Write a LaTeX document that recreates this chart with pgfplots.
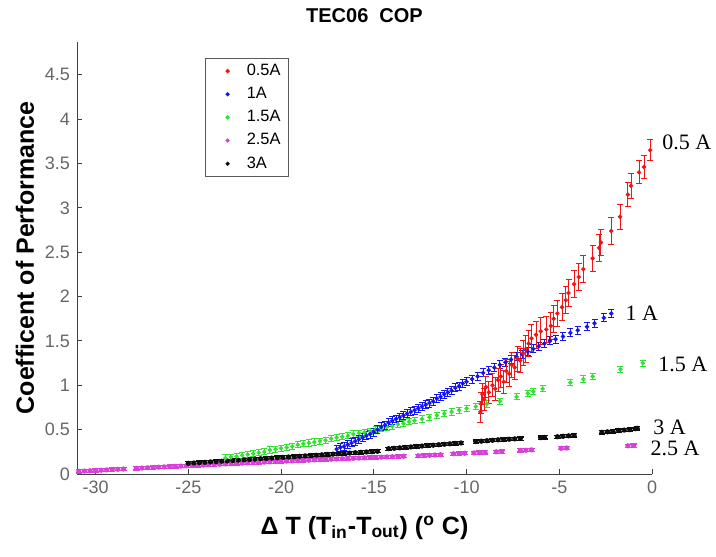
\documentclass[border=0pt]{standalone}
\usepackage{fontspec}
\setmainfont{Liberation Sans}
\newfontfamily\timesfont{Liberation Serif}
\usepackage{pgfplots}
\usepackage{pgfplotstable}
\pgfplotsset{compat=1.18}
\usetikzlibrary{calc}

\definecolor{cred}{rgb}{0.95,0.08,0.08}
\definecolor{cblue}{rgb}{0.08,0.08,0.95}
\definecolor{cgreen}{rgb}{0.2,0.88,0.2}
\definecolor{cmag}{rgb}{0.85,0.25,0.85}
\definecolor{cblk}{rgb}{0.05,0.05,0.05}

% 0.5 A (x, COP, error)
\pgfplotstableread{
x y e
-9.25 0.70 0.12
-9.20 0.80 0.12
-9.15 0.90 0.12
-9.05 0.84 0.12
-8.95 0.98 0.12
-8.80 0.92 0.12
-8.60 1.00 0.13
-8.45 0.96 0.13
-8.30 1.06 0.13
-8.15 1.10 0.13
-8.00 1.04 0.13
-7.85 1.16 0.13
-7.70 1.13 0.14
-7.55 1.23 0.14
-7.40 1.20 0.14
-7.25 1.30 0.14
-7.10 1.28 0.14
-6.95 1.36 0.14
-6.80 1.41 0.15
-6.65 1.47 0.15
-6.50 1.53 0.15
-6.25 1.57 0.15
-6.00 1.61 0.15
-5.70 1.63 0.15
-5.45 1.67 0.15
-5.30 1.75 0.15
-5.10 1.81 0.15
-4.85 1.88 0.15
-4.65 1.96 0.15
-4.50 2.04 0.15
-4.20 2.14 0.15
-3.95 2.22 0.15
-3.70 2.31 0.15
-3.20 2.43 0.15
-2.85 2.55 0.15
-2.75 2.61 0.15
-2.20 2.74 0.15
-1.72 2.90 0.14
-1.30 3.15 0.14
-1.13 3.25 0.14
-0.70 3.40 0.13
-0.43 3.46 0.13
-0.10 3.65 0.12
}\redtab

% 1 A
\pgfplotstableread{
x y
-17.0 0.28
-16.8 0.30
-16.6 0.31
-16.4 0.33
-16.2 0.35
-16.0 0.37
-15.8 0.39
-15.6 0.41
-15.4 0.43
-15.2 0.45
-15.0 0.47
-14.8 0.50
-14.6 0.53
-14.4 0.55
-14.2 0.58
-14.0 0.60
-13.8 0.62
-13.6 0.64
-13.4 0.66
-13.2 0.68
-13.0 0.70
-12.8 0.72
-12.6 0.74
-12.4 0.76
-12.2 0.78
-12.0 0.80
-11.8 0.82
-11.6 0.85
-11.4 0.87
-11.2 0.90
-11.0 0.92
-10.8 0.94
-10.6 0.97
-10.4 0.99
-10.2 1.02
-10.0 1.04
-9.7 1.07
-9.4 1.10
-9.1 1.14
-8.8 1.17
-8.5 1.20
-8.2 1.23
-7.9 1.26
-7.6 1.29
-7.3 1.32
-7.0 1.35
-6.7 1.38
-6.4 1.41
-6.1 1.44
-5.8 1.47
-5.5 1.50
-5.2 1.52
-4.8 1.55
-4.4 1.59
-4.0 1.62
-3.5 1.66
-3.1 1.70
-2.6 1.76
-2.2 1.81
}\bluetab

% 1.5 A
\pgfplotstableread{
x y
-23.0 0.18
-22.7 0.19
-22.4 0.20
-22.1 0.21
-21.8 0.22
-21.5 0.23
-21.2 0.24
-20.9 0.25
-20.6 0.27
-20.3 0.28
-20.0 0.29
-19.7 0.30
-19.4 0.31
-19.1 0.33
-18.8 0.34
-18.5 0.35
-18.2 0.36
-17.9 0.37
-17.6 0.38
-17.3 0.40
-17.0 0.41
-16.7 0.42
-16.4 0.43
-16.1 0.45
-15.8 0.46
-15.5 0.47
-15.2 0.48
-14.9 0.50
-14.6 0.51
-14.3 0.53
-14.0 0.54
-13.7 0.56
-13.4 0.57
-13.1 0.59
-12.8 0.60
-12.4 0.62
-12.0 0.64
-11.6 0.66
-11.2 0.68
-10.8 0.70
-10.4 0.72
-10.0 0.74
-9.5 0.76
-8.9 0.79
-8.2 0.82
-7.3 0.87
-6.7 0.91
-6.4 0.93
-5.9 0.96
-4.4 1.03
-3.7 1.07
-3.2 1.10
-1.7 1.18
-0.5 1.25
}\greentab

% 2.5 A
\pgfplotstableread{
x y
-30.9 0.030
-30.6 0.033
-30.3 0.036
-30.0 0.040
-29.7 0.043
-29.4 0.046
-29.1 0.050
-28.8 0.053
-28.5 0.056
-27.8 0.064
-27.5 0.067
-27.2 0.070
-26.9 0.073
-26.6 0.077
-26.3 0.080
-26.0 0.083
-25.7 0.086
-25.4 0.089
-25.1 0.092
-24.8 0.095
-24.5 0.098
-24.2 0.101
-23.9 0.104
-23.6 0.107
-23.3 0.110
-23.0 0.113
-22.7 0.116
-22.4 0.119
-22.1 0.122
-21.8 0.125
-21.5 0.128
-21.2 0.131
-20.9 0.134
-20.6 0.137
-20.3 0.140
-20.0 0.143
-19.7 0.146
-19.4 0.148
-19.1 0.151
-18.8 0.154
-18.5 0.156
-18.2 0.159
-17.9 0.162
-17.6 0.164
-17.3 0.167
-17.0 0.170
-16.7 0.172
-16.4 0.175
-16.1 0.177
-15.8 0.180
-15.5 0.182
-15.2 0.185
-14.9 0.187
-14.6 0.190
-14.3 0.192
-14.0 0.195
-13.7 0.197
-13.4 0.200
-12.6 0.205
-12.3 0.208
-12.0 0.211
-11.7 0.214
-11.4 0.217
-10.7 0.228
-10.4 0.231
-10.1 0.234
-9.6 0.238
-9.3 0.241
-9.0 0.244
-8.4 0.250
-8.1 0.253
-7.1 0.265
-6.8 0.268
-6.5 0.272
-4.9 0.290
-4.6 0.293
-1.3 0.318
-1.0 0.320
}\magtab

% 3 A
\pgfplotstableread{
x y
-25.0 0.120
-24.7 0.124
-24.4 0.128
-24.1 0.132
-23.8 0.136
-23.5 0.140
-23.2 0.144
-22.9 0.148
-22.6 0.152
-22.3 0.156
-22.0 0.160
-21.7 0.164
-21.4 0.168
-21.1 0.172
-20.8 0.176
-20.5 0.180
-20.2 0.184
-19.9 0.188
-19.6 0.192
-19.3 0.196
-19.0 0.200
-18.7 0.204
-18.4 0.208
-18.1 0.212
-17.8 0.216
-17.5 0.220
-17.2 0.224
-16.9 0.228
-16.6 0.232
-16.3 0.236
-16.0 0.240
-15.7 0.244
-15.4 0.248
-15.1 0.252
-14.8 0.256
-14.2 0.285
-13.9 0.290
-13.6 0.295
-13.3 0.300
-13.0 0.305
-12.7 0.310
-12.4 0.315
-12.1 0.320
-11.8 0.325
-11.5 0.330
-11.2 0.335
-10.9 0.340
-10.6 0.345
-10.3 0.350
-9.5 0.365
-9.2 0.370
-8.9 0.375
-8.6 0.380
-8.3 0.385
-8.0 0.388
-7.7 0.392
-7.4 0.396
-7.1 0.400
-6.0 0.410
-5.8 0.412
-5.1 0.420
-4.8 0.425
-4.5 0.430
-4.2 0.435
-2.7 0.470
-2.4 0.475
-2.1 0.480
-1.8 0.490
-1.5 0.495
-1.2 0.500
-0.9 0.510
-0.8 0.515
}\blktab

\pgfplotsset{
  ebar/.style={only marks, mark=*, mark size=0.9pt, color=#1,
    mark options={solid, fill=#1, draw=#1}},
}

\begin{document}
\begin{tikzpicture}
\begin{axis}[
  width=287.5pt, height=216pt, scale only axis,
  xmin=-31, xmax=0, ymin=0, ymax=4.87,
  axis x line*=bottom, axis y line*=left,
  axis line style={black!75, line width=0.5pt, -},
  xtick={-30,-25,-20,-15,-10,-5,0},
  ytick={0,0.5,1,1.5,2,2.5,3,3.5,4,4.5},
  tick align=inside, major tick length=2.5pt,
  tick style={black!75, line width=0.5pt},
  tick label style={font=\fontsize{9}{10}\selectfont, text=black!60},
  /pgf/number format/assume math mode=true,
  title={TEC06\ \ COP},
  title style={at={(0.5,1)}, anchor=base, yshift=3.5pt, font=\bfseries\fontsize{10}{12}\selectfont},
  xlabel={Δ T (T\textsubscript{in}-T\textsubscript{out}) (\textsuperscript{o} C)},
  ylabel={Coefficent of Performance},
  label style={font=\bfseries\fontsize{12.5}{14}\selectfont},
  xlabel style={at={(axis description cs:0.5,0)}, anchor=base, yshift=-30pt},
  ylabel style={at={(axis description cs:-0.0904,0.5)}, anchor=center},
  clip=false,
  legend style={at={(0.2226,0.963)}, anchor=north west, draw=black!65,
    line width=0.5pt, font=\fontsize{8.2}{9}\selectfont, row sep=0pt,
    inner xsep=2pt, inner ysep=0.5pt,
    nodes={inner sep=2.2pt}},
  legend cell align=left,
  legend image code/.code={\path (0cm,0cm) (0.56cm,0cm);
    \draw[#1] plot coordinates {(0.31cm,0cm)};},
]
  % legend entries in the original order
  \addlegendimage{ebar=cred, mark size=0.8pt}
  \addlegendimage{ebar=cblue, mark size=0.8pt}
  \addlegendimage{ebar=cgreen, mark size=0.8pt}
  \addlegendimage{ebar=cmag, mark size=0.8pt}
  \addlegendimage{ebar=cblk, mark size=0.8pt}
  \legend{0.5A, 1A, 1.5A, 2.5A, 3A}

  \addplot[ebar=cmag, mark size=1.1pt, forget plot,
    error bars/.cd, y dir=both, y fixed=0.018,
    error bar style={line width=0.6pt, cmag},
    error mark options={rotate=90, mark size=1.6pt, line width=0.6pt, cmag}]
    table[x=x, y=y] {\magtab};
  \addplot[ebar=cblk, mark size=1.1pt, forget plot,
    error bars/.cd, y dir=both, y fixed=0.018,
    error bar style={line width=0.6pt, cblk},
    error mark options={rotate=90, mark size=1.6pt, line width=0.6pt, cblk}]
    table[x=x, y=y] {\blktab};
  \addplot[ebar=cgreen, forget plot,
    error bars/.cd, y dir=both, y fixed=0.035,
    error bar style={line width=0.5pt, cgreen},
    error mark options={rotate=90, mark size=1.5pt, line width=0.5pt, cgreen}]
    table[x=x, y=y] {\greentab};
  \addplot[ebar=cblue, forget plot,
    error bars/.cd, y dir=both, y fixed=0.045,
    error bar style={line width=0.5pt, cblue},
    error mark options={rotate=90, mark size=1.5pt, line width=0.5pt, cblue}]
    table[x=x, y=y] {\bluetab};
  \addplot[ebar=cred, forget plot,
    error bars/.cd, y dir=both, y explicit,
    error bar style={line width=0.5pt, cred},
    error mark options={rotate=90, mark size=1.5pt, line width=0.5pt, cred}]
    table[x=x, y=y, y error=e] {\redtab};

  % curve labels
  \begin{scope}[every node/.style={anchor=west, inner sep=0pt, font=\timesfont\fontsize{11}{12}\selectfont}]
    \node at (axis cs:0.54,3.74) {0.5 A};
    \node at (axis cs:-1.45,1.81) {1 A};
    \node at (axis cs:0.32,1.23) {1.5 A};
    \node at (axis cs:0.05,0.53) {3 A};
    \node at (axis cs:-0.1,0.29) {2.5 A};
  \end{scope}
\end{axis}
\pgfresetboundingbox
\useasboundingbox ($(current axis.south west)+(-38.5pt,-41pt)$) rectangle ($(current axis.north east)+(32pt,21pt)$);
\end{tikzpicture}
\end{document}
